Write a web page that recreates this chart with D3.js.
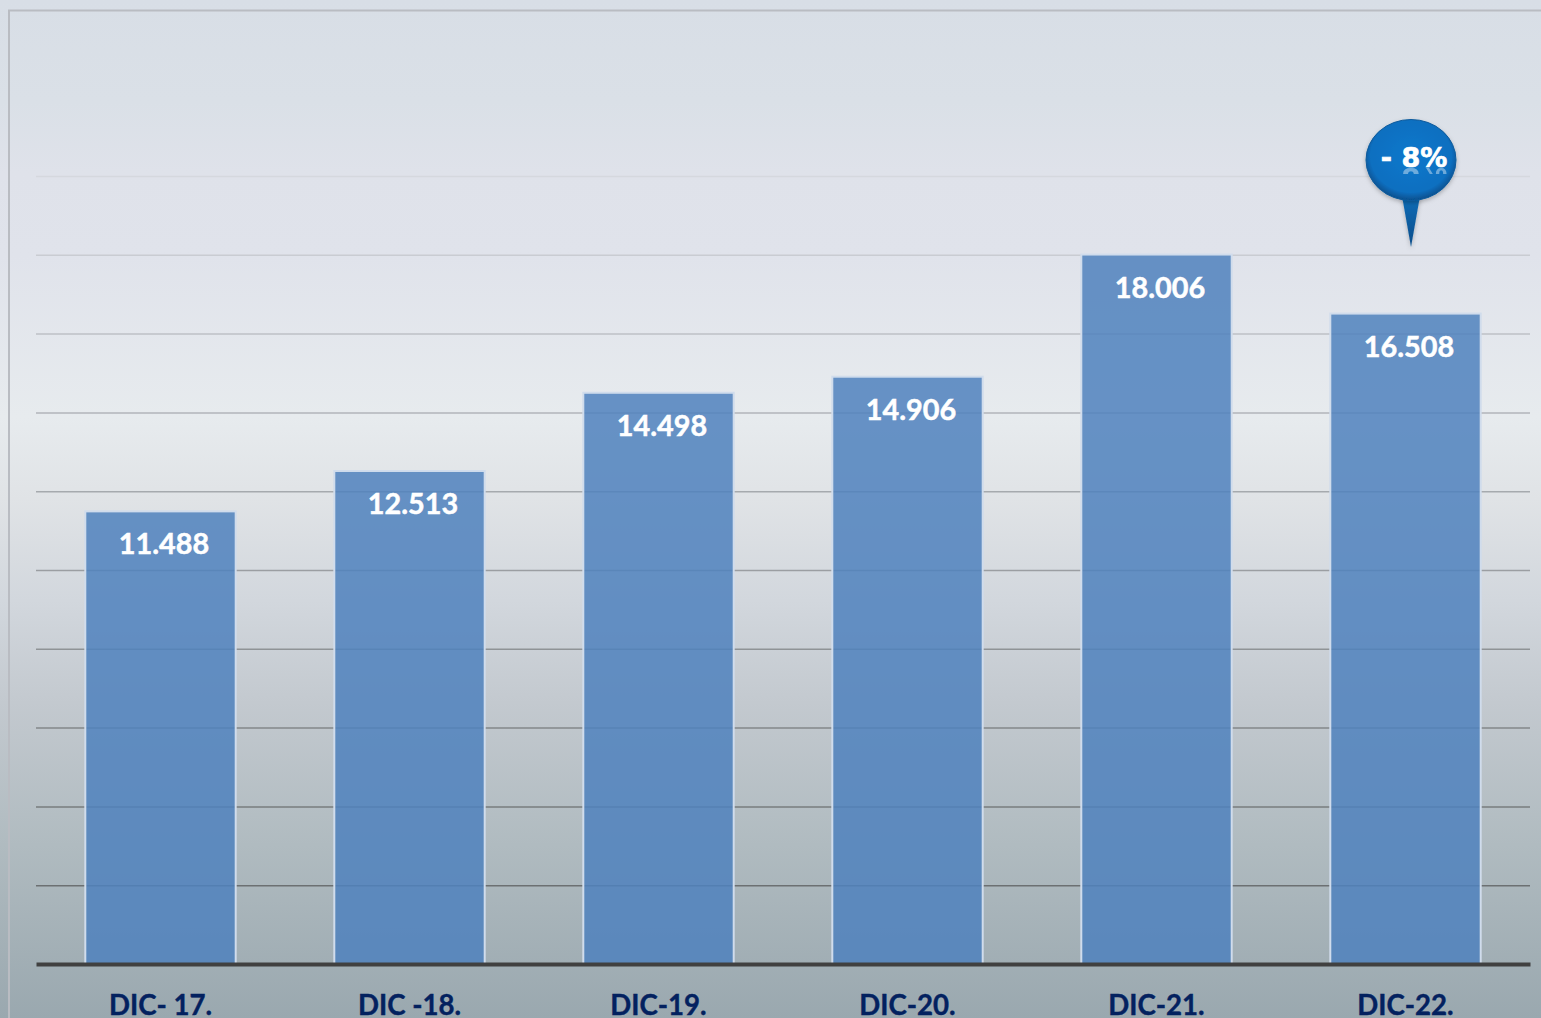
<!DOCTYPE html>
<html>
<head>
<meta charset="utf-8">
<script src="https://cdn.jsdelivr.net/npm/d3@7"></script>
<style>
html, body { margin: 0; padding: 0; overflow: hidden; background: #9aa9b0; }
svg { display: block; }
</style>
</head>
<body>
<div id="chart"></div>
<script>
const categories = ["DIC- 17.", "DIC -18.", "DIC-19.", "DIC-20.", "DIC-21.", "DIC-22."];
const values = [11488, 12513, 14498, 14906, 18006, 16508];
const valueLabels = ["11.488", "12.513", "14.498", "14.906", "18.006", "16.508"];
const gridTicks = [2000, 4000, 6000, 8000, 10000, 12000, 14000, 16000, 18000, 20000];
const calloutLabel = "- 8%";

const width = 1541, height = 1018;
const margin = {top: 176, right: 11, bottom: 54, left: 36};
const labelFont = "Lato, sans-serif";

const svg = d3.select("#chart").append("svg")
    .attr("width", width)
    .attr("height", height);
const defs = svg.append("defs");

function vGradient(id, stops) {
    const g = defs.append("linearGradient").attr("id", id)
        .attr("x1", 0).attr("x2", 0).attr("y1", 0).attr("y2", 1);
    stops.forEach(s => g.append("stop").attr("offset", s[0]).attr("stop-color", s[1]));
}

vGradient("bg", [
    [0, "#d8dee6"], [0.1, "#dae0e7"], [0.17, "#dfe2ea"], [0.25, "#e0e3eb"], [0.41, "#e7ebee"],
    [0.49, "#e0e3e6"], [0.59, "#d2d7dd"], [0.69, "#c3c9cf"], [0.83, "#b0bbc0"], [1, "#9aa8af"]
]);
vGradient("pinTail", [[0, "#0f6db8"], [1, "#0a4d8a"]]);

const pinFill = defs.append("radialGradient").attr("id", "pinFill")
    .attr("cx", 0.5).attr("cy", 0.45).attr("r", 0.55);
pinFill.append("stop").attr("offset", 0).attr("stop-color", "#0a78cc");
pinFill.append("stop").attr("offset", 0.82).attr("stop-color", "#0a6fc0");
pinFill.append("stop").attr("offset", 1).attr("stop-color", "#064f8c");

const shadow = defs.append("filter").attr("id", "pinShadow")
    .attr("x", "-20%").attr("y", "-20%").attr("width", "140%").attr("height", "140%");
shadow.append("feDropShadow").attr("dx", 0).attr("dy", 2).attr("stdDeviation", 2)
    .attr("flood-color", "#000").attr("flood-opacity", 0.25);

svg.append("rect")
    .attr("width", width).attr("height", height)
    .attr("fill", "url(#bg)");

// frame, runs off the right and bottom of the picture
svg.append("path")
    .attr("d", `M9,${height}V10.5H${width}`)
    .attr("fill", "none")
    .attr("stroke", "#b9bcc2")
    .attr("stroke-width", 2);

const x = d3.scaleBand()
    .domain(categories)
    .range([margin.left, width - margin.right])
    .paddingInner(0.4)
    .paddingOuter(0.2);

const y = d3.scaleLinear()
    .domain([0, 20000])
    .range([height - margin.bottom, margin.top]);

// grid gets darker towards the baseline
const gridColor = d3.scaleLinear()
    .domain([20000, 2000])
    .range(["#d5d8de", "#6c7072"]);

const grid = svg.append("g")
    .attr("transform", `translate(${margin.left},0)`)
    .call(d3.axisLeft(y).tickValues(gridTicks).tickSize(-(width - margin.left - margin.right)).tickFormat(""));
grid.select(".domain").remove();
grid.selectAll(".tick line")
    .attr("stroke", d => gridColor(d))
    .attr("stroke-width", 1.5);

// bars
svg.selectAll(".bar")
    .data(values)
    .enter()
    .append("rect")
    .attr("class", "bar")
    .attr("x", (d, i) => x(categories[i]) - 0.5)
    .attr("y", d => y(d))
    .attr("width", x.bandwidth() + 1)
    .attr("height", d => y(0) - y(d))
    .attr("fill", "rgb(79,129,189)")
    .attr("fill-opacity", 0.85)
    .attr("stroke", "#d0dcec")
    .attr("stroke-width", 2);

// value labels
svg.selectAll(".value")
    .data(values)
    .enter()
    .append("text")
    .attr("class", "value")
    .attr("x", (d, i) => x(categories[i]) + x.bandwidth() / 2 + 3.5)
    .attr("y", d => y(d) + 43)
    .attr("text-anchor", "middle")
    .style("font-family", labelFont)
    .style("font-weight", 700)
    .style("font-size", "28.8px")
    .style("fill", "#fff")
    .style("stroke", "#fff")
    .style("stroke-width", 0.5)
    .text((d, i) => valueLabels[i]);

// x axis
const xAxis = svg.append("g")
    .attr("transform", `translate(0,${y(0)})`)
    .call(d3.axisBottom(x).tickSize(0).tickPadding(31));
xAxis.select(".domain")
    .attr("stroke", "#404040")
    .attr("stroke-width", 4);
xAxis.selectAll("text")
    .style("font-family", labelFont)
    .style("font-weight", 700)
    .style("font-size", "27.6px")
    .style("fill", "#03215f")
    .style("stroke", "#03215f")
    .style("stroke-width", 0.4);

// callout over the last bar
const last = categories[categories.length - 1];
const pin = svg.append("g")
    .attr("transform", `translate(${x(last) + x.bandwidth() / 2 + 5.5},160)`);
pin.append("path")
    .attr("d", "M-9,36L0,87L9,36Z")
    .attr("fill", "url(#pinTail)")
    .attr("filter", "url(#pinShadow)");
pin.append("ellipse")
    .attr("rx", 45)
    .attr("ry", 40.5)
    .attr("fill", "url(#pinFill)")
    .attr("stroke", "#0a5a9c")
    .attr("stroke-width", 1)
    .attr("filter", "url(#pinShadow)");

// glassy reflection right under the text
defs.append("clipPath").attr("id", "reflectClip")
    .append("rect").attr("x", -40).attr("y", 8).attr("width", 80).attr("height", 6);
pin.append("g")
    .attr("clip-path", "url(#reflectClip)")
    .append("text")
    .attr("transform", "translate(3,8) scale(1,-1)")
    .attr("text-anchor", "middle")
    .style("font-family", "'DejaVu Sans', sans-serif")
    .style("font-weight", 700)
    .style("font-size", "27px")
    .style("fill", "#fff")
    .style("opacity", 0.4)
    .text(calloutLabel);
pin.append("text")
    .attr("x", 3)
    .attr("y", 6.5)
    .attr("text-anchor", "middle")
    .style("font-family", "'DejaVu Sans', sans-serif")
    .style("font-weight", 700)
    .style("font-size", "27px")
    .style("fill", "#fff")
    .style("stroke", "#fff")
    .style("stroke-width", 0.7)
    .text(calloutLabel);
</script>
</body>
</html>
